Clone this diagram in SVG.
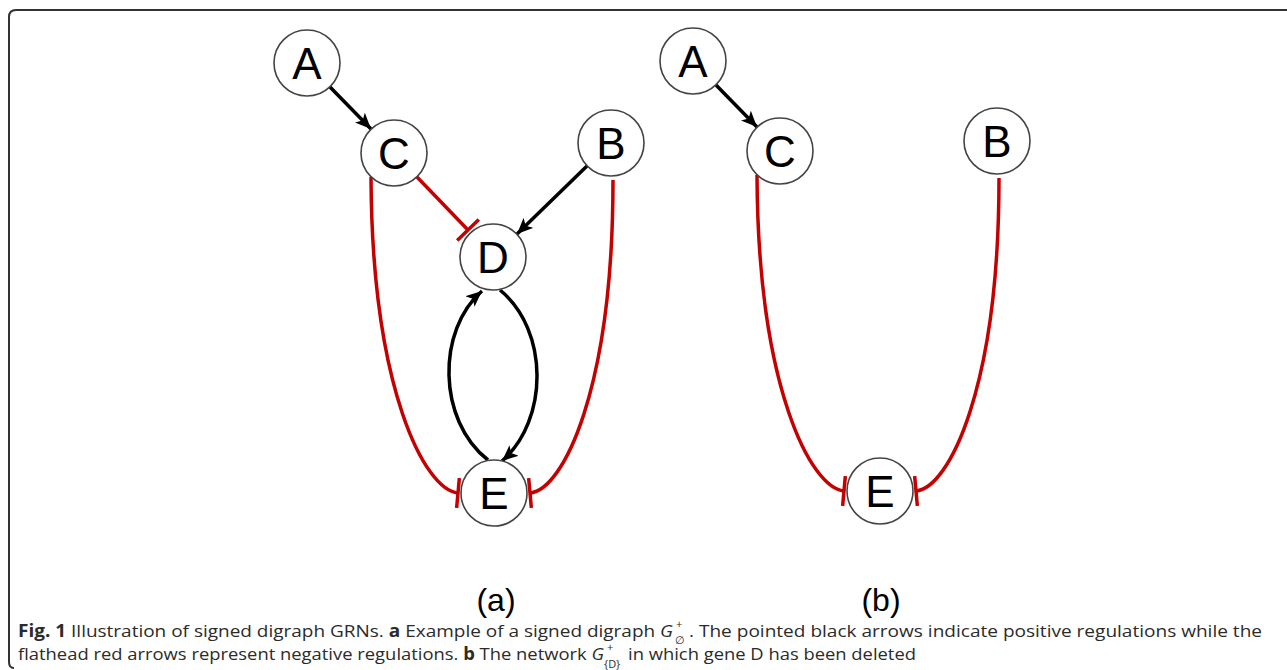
<svg xmlns="http://www.w3.org/2000/svg" width="1287" height="670" viewBox="0 0 1287 670">
  <style>
    .node circle { fill: #ffffff; stroke: #444444; stroke-width: 1.6; }
    .node text { font-family: "Liberation Sans", Arial, sans-serif; font-size: 44px; fill: #000000; text-anchor: middle; }
    .pos { fill: none; stroke: #000000; stroke-width: 3.5; marker-end: url(#arrow); }
    .neg { fill: none; stroke: #c40000; stroke-width: 3.5; marker-end: url(#bar); }
    .panel { font-family: "Liberation Sans", Arial, sans-serif; font-size: 32px; fill: #000000; text-anchor: middle; }
    .cap { font-family: "Open Sans", "Noto Sans", sans-serif; font-size: 17px; fill: #2b2b2b; }
    .capsm { font-family: "Open Sans", "Noto Sans", sans-serif; font-size: 11px; fill: #2b2b2b; }
    .b { font-weight: bold; }
    .i { font-style: italic; }
  </style>
  <defs>
    <marker id="arrow" markerUnits="userSpaceOnUse" markerWidth="18" markerHeight="14" refX="16" refY="7" orient="auto">
      <path d="M0,0 L16,7 L0,14 L4,7 Z" fill="#000000"/>
    </marker>
    <marker id="bar" markerUnits="userSpaceOnUse" markerWidth="6" markerHeight="30" refX="3" refY="15" orient="auto">
      <line x1="3" y1="0" x2="3" y2="30" stroke="#c40000" stroke-width="3.5"/>
    </marker>
  </defs>

  <!-- frame -->
  <path d="M14 668 Q9 668 9 662 L9 17 Q9 10 16 10 L1287 10" fill="none" stroke="#333333" stroke-width="2"/>

  <!-- connectors -->
  <g id="edges">
    <!-- panel a -->
    <path class="pos" d="M330 87 L371 129"/>
    <path class="pos" d="M587 166 L517 234"/>
    <path class="neg" d="M417 177 L468 230"/>
    <path class="pos" d="M500 290 C549 330 549 420 502 461"/>
    <path class="pos" d="M488 460 C437 420 437 330 482 291"/>
    <path class="neg" d="M371 177 C372 390 425 490 458 493"/>
    <path class="neg" d="M613 180 C613 390 563 490 530 493"/>
    <!-- panel b -->
    <path class="pos" d="M716 85 L757 127"/>
    <path class="neg" d="M757 175 C758 388 811 488 844 491"/>
    <path class="neg" d="M999 178 C999 388 949 488 916 491"/>
  </g>

  <!-- panel a nodes -->
  <g id="a-A" class="node"><circle cx="307" cy="63" r="33"/><text x="307" y="79">A</text></g>
  <g id="a-C" class="node"><circle cx="394" cy="153" r="33"/><text x="394" y="169">C</text></g>
  <g id="a-B" class="node"><circle cx="611" cy="143" r="33"/><text x="611" y="159">B</text></g>
  <g id="a-D" class="node"><circle cx="493" cy="257" r="33"/><text x="493" y="273">D</text></g>
  <g id="a-E" class="node"><circle cx="494" cy="493" r="33"/><text x="494" y="509">E</text></g>

  <!-- panel b nodes -->
  <g id="b-A" class="node"><circle cx="693" cy="61" r="33"/><text x="693" y="77">A</text></g>
  <g id="b-C" class="node"><circle cx="780" cy="151" r="33"/><text x="780" y="167">C</text></g>
  <g id="b-B" class="node"><circle cx="997" cy="141" r="33"/><text x="997" y="157">B</text></g>
  <g id="b-E" class="node"><circle cx="880" cy="491" r="33"/><text x="880" y="507">E</text></g>

  <!-- panel labels -->
  <text class="panel" x="496" y="611">(a)</text>
  <text class="panel" x="881" y="611">(b)</text>

  <!-- caption -->
  <g id="caption">
    <text class="cap" x="18" y="637" textLength="655" lengthAdjust="spacingAndGlyphs"><tspan class="b">Fig. 1</tspan> Illustration of signed digraph GRNs. <tspan class="b">a</tspan> Example of a signed digraph <tspan class="i">G</tspan></text>
    <text class="capsm" x="676" y="628">+</text>
    <text class="capsm" x="675" y="644">∅</text>
    <text class="cap" x="689" y="637" textLength="573" lengthAdjust="spacingAndGlyphs">. The pointed black arrows indicate positive regulations while the</text>

    <text class="cap" x="18" y="660" textLength="586" lengthAdjust="spacingAndGlyphs">flathead red arrows represent negative regulations. <tspan class="b">b</tspan> The network <tspan class="i">G</tspan></text>
    <text class="capsm" x="607" y="651">+</text>
    <text class="capsm" x="604" y="668">{D}</text>
    <text class="cap" x="628" y="660" textLength="288" lengthAdjust="spacingAndGlyphs"> in which gene D has been deleted</text>
  </g>
</svg>
